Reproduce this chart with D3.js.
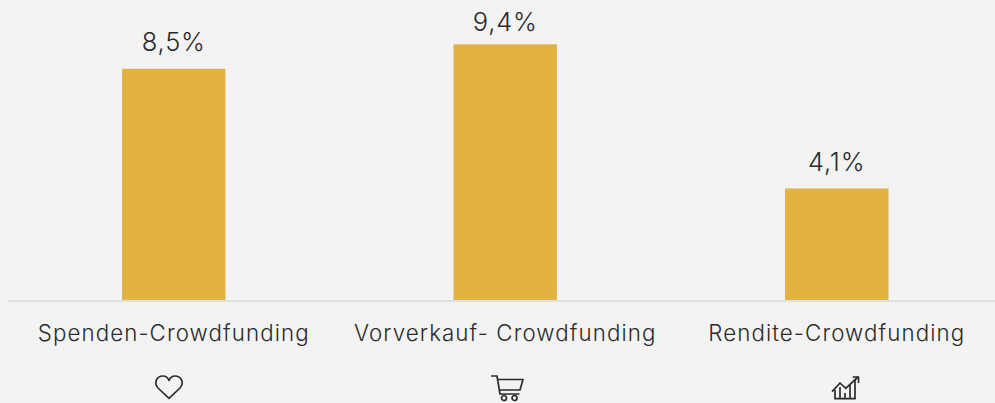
<!DOCTYPE html>
<html><head><meta charset="utf-8">
<script src="https://cdnjs.cloudflare.com/ajax/libs/d3/7.8.5/d3.min.js"></script>
<style>html,body{margin:0;padding:0;background:#f3f3f3;overflow:hidden}svg{display:block}
text{font-family:Inter,"Noto Sans",sans-serif;fill:#2b2b2b;font-weight:300}</style></head><body>
<svg id="c" width="995" height="403"></svg>
<script>
const categories = ["Spenden-Crowdfunding","Vorverkauf- Crowdfunding","Rendite-Crowdfunding"];
const values = [8.5,9.4,4.1];
const valueLabels = ["8,5%","9,4%","4,1%"];
const iconNames = ["heart","cart","chart"];

const W=995,H=403,base=300;
const svg=d3.select("#c");
const x=d3.scaleBand().domain(categories).range([8,1002.5]).paddingInner(0.688).paddingOuter(0.344);
const y=d3.scaleLinear().domain([0,10]).range([base,base-272]);

svg.selectAll("rect.bar").data(values).join("rect").attr("class","bar")
 .attr("x",(d,i)=>x(categories[i])).attr("width",x.bandwidth())
 .attr("y",d=>y(d)).attr("height",d=>base-y(d)).attr("fill","#e2b242");

svg.append("line").attr("x1",8).attr("x2",995).attr("y1",301).attr("y2",301).attr("stroke","#d9d9d9").attr("stroke-width",1.6);

svg.selectAll("text.val").data(values).join("text").attr("class","val")
 .attr("x",(d,i)=>x(categories[i])+x.bandwidth()/2).attr("y",d=>Math.max(30.5,y(d)-17.5))
 .attr("text-anchor","middle").attr("font-size",25.5).style("letter-spacing","0.8px")
 .text((d,i)=>valueLabels[i]);

svg.selectAll("text.cat").data(categories).join("text").attr("class","cat")
 .attr("x",d=>x(d)+x.bandwidth()/2).attr("y",341)
 .attr("text-anchor","middle").attr("font-size",22.3).style("letter-spacing","1.1px")
 .text(d=>d);

const icons={
 heart:["M0 10.3 L-11 0 C-15.5 -5 -12.5 -12 -6 -12 C-3.5 -12 -1.2 -10.5 0 -7.5 C1.2 -10.5 3.5 -12 6 -12 C12.5 -12 15.5 -5 11 0 Z"],
 cart:["M-16.5 -12 H-10.5 L-7.5 6 H12","M-10 -8.5 H15.5 L12.5 2 H-8"],
 chart:["M-14 1.7 L-6 -7 L-0.3 -1.7 L12 -13","M6.7 -13 H12.5 V-7","M-11 0 V8.7 H9 V-10","M-6 -3 V8.7","M-1 3 V8.7","M4 -5 V8.7"]
};
const centers=[169,507.5,846];
const cy=[388,388,390];
iconNames.forEach((n,i)=>{
 const g=svg.append("g").attr("transform",`translate(${centers[i]},${cy[i]})`)
  .attr("fill","none").attr("stroke","#2b2b2b").attr("stroke-width",1.7).attr("stroke-linejoin","round");
 icons[n].forEach(p=>g.append("path").attr("d",p));
 if(n==="cart"){[-3.5,7].forEach(cx=>g.append("circle").attr("cx",cx).attr("cy",10).attr("r",2.5));}
});
</script></body></html>
